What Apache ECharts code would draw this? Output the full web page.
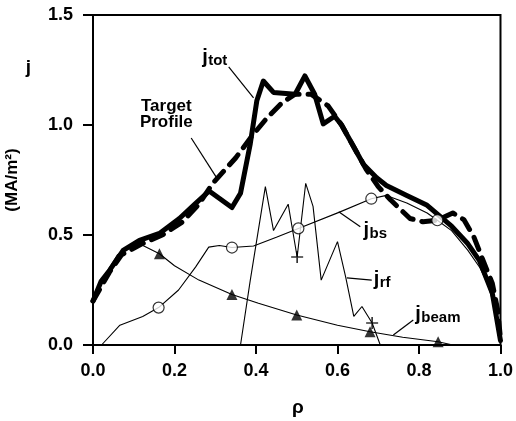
<!DOCTYPE html>
<html>
<head>
<meta charset="utf-8">
<script src="https://cdn.jsdelivr.net/npm/echarts@6/dist/echarts.min.js"></script>
<style>html,body{margin:0;padding:0;background:#fff;}#c{width:516px;height:421px;}</style>
</head>
<body>
<div id="c"></div>
<script>
// ---- data (rho, j in MA/m^2) ----
var xTicks = [0, 0.2, 0.4, 0.6, 0.8, 1.0];
var yTicks = [0, 0.5, 1.0, 1.5];

var jTot = [[0,0.20],[0.02,0.29],[0.041,0.34],[0.074,0.43],[0.114,0.476],[0.163,0.507],[0.212,0.575],[0.25,0.64],[0.285,0.70],[0.341,0.625],[0.362,0.69],[0.386,0.915],[0.402,1.11],[0.418,1.20],[0.443,1.148],[0.496,1.14],[0.52,1.223],[0.544,1.14],[0.565,1.005],[0.593,1.04],[0.61,1.0],[0.64,0.90],[0.664,0.82],[0.696,0.76],[0.72,0.725],[0.77,0.68],[0.82,0.635],[0.88,0.54],[0.92,0.46],[0.948,0.385],[0.98,0.235],[1.0,0.02]];

var jTarget = [[0,0.20],[0.04,0.33],[0.07,0.41],[0.12,0.46],[0.17,0.50],[0.22,0.56],[0.26,0.64],[0.293,0.733],[0.35,0.85],[0.39,0.95],[0.426,1.03],[0.463,1.10],[0.496,1.14],[0.535,1.14],[0.577,1.087],[0.61,1.0],[0.64,0.90],[0.67,0.80],[0.70,0.72],[0.73,0.66],[0.778,0.575],[0.81,0.56],[0.845,0.567],[0.883,0.60],[0.91,0.57],[0.935,0.49],[0.956,0.39],[0.98,0.28],[0.993,0.16],[1.0,0.03]];

var jBs = [[0.021,0],[0.066,0.09],[0.122,0.13],[0.161,0.17],[0.21,0.25],[0.252,0.355],[0.284,0.445],[0.31,0.452],[0.341,0.443],[0.394,0.45],[0.45,0.49],[0.504,0.53],[0.605,0.604],[0.683,0.665],[0.72,0.68],[0.77,0.645],[0.82,0.60],[0.845,0.567],[0.88,0.52],[0.92,0.43],[0.95,0.35],[0.97,0.27],[0.99,0.14],[1.0,0.02]];
var jBsMarks = [[0.161,0.17],[0.341,0.443],[0.504,0.53],[0.683,0.665],[0.845,0.567]];

var jRf = [[0.362,0],[0.386,0.295],[0.423,0.72],[0.443,0.52],[0.479,0.64],[0.501,0.40],[0.522,0.735],[0.54,0.63],[0.56,0.295],[0.60,0.47],[0.62,0.31],[0.64,0.13],[0.66,0.175],[0.685,0.10],[0.705,0.0]];
var jRfMarks = [[0.501,0.40],[0.685,0.10]];

var jBeam = [[0,0.20],[0.03,0.32],[0.06,0.41],[0.1,0.45],[0.12,0.455],[0.163,0.415],[0.2,0.36],[0.26,0.295],[0.341,0.23],[0.406,0.19],[0.5,0.136],[0.6,0.09],[0.68,0.06],[0.76,0.035],[0.847,0.015],[0.883,0.0]];
var jBeamMarks = [[0.163,0.415],[0.341,0.23],[0.5,0.136],[0.68,0.06],[0.847,0.015]];

// annotation anchors (data coords)
var labels = [
  {main:'j', sub:'tot', at:[0.268,1.306]},
  {main:'j', sub:'bs', at:[0.664,0.52]},
  {main:'j', sub:'rf', at:[0.689,0.297]},
  {main:'j', sub:'beam', at:[0.791,0.138]}
];
var leaders = [
  [[0.333,1.264],[0.394,1.123]],
  [[0.241,0.941],[0.302,0.764]],
  [[0.603,0.606],[0.656,0.538]],
  [[0.623,0.305],[0.684,0.295]],
  [[0.737,0.045],[0.786,0.114]]
];
var targetLabelAt = [0.18, 1.05];

var FONT = '"Liberation Sans", Arial, Helvetica, sans-serif';
var chart = echarts.init(document.getElementById('c'), null, {renderer:'canvas'});
var thin = {color:'#000', width:1.1};
var plusPath = 'path://M4.3,0h1.4v4.3h4.3v1.4h-4.3v4.3h-1.4v-4.3h-4.3v-1.4h4.3z';

chart.setOption({
  animation:false,
  backgroundColor:'#fff',
  grid:{left:93, right:12, top:15, bottom:76, show:true, borderColor:'#000', borderWidth:2},
  xAxis:{type:'value', min:0, max:1, interval:0.2,
    axisLine:{show:true, lineStyle:{color:'#000', width:2}},
    axisTick:{show:true, length:9, lineStyle:{color:'#000', width:2}},
    axisLabel:{margin:17, color:'#000', fontFamily:FONT, fontWeight:'bold', fontSize:18,
      formatter:function(v){return v.toFixed(1);}},
    splitLine:{show:false}},
  yAxis:{type:'value', min:0, max:1.5, interval:0.5,
    axisLine:{show:true, lineStyle:{color:'#000', width:2}},
    axisTick:{show:true, length:10, lineStyle:{color:'#000', width:2}},
    axisLabel:{margin:20, color:'#000', fontFamily:FONT, fontWeight:'bold', fontSize:18,
      formatter:function(v){return v.toFixed(1);}},
    splitLine:{show:false}},
  series:[
    {type:'line', data:jBeam, showSymbol:false, lineStyle:thin, z:2},
    {type:'line', data:jBs, showSymbol:false, lineStyle:thin, z:2},
    {type:'line', data:jRf, showSymbol:false, lineStyle:thin, z:2},
    {type:'line', data:jTot, showSymbol:false, lineStyle:{color:'#000', width:5, join:'round', cap:'round'}, z:3},
    {type:'line', data:jTarget, showSymbol:false, lineStyle:{color:'#000', width:5, type:[13,9], cap:'round', join:'round'}, z:4},
    {type:'scatter', data:jBsMarks, symbol:'circle', symbolSize:11, itemStyle:{color:'#fff', borderColor:'#000', borderWidth:1.2}, z:6},
    {type:'scatter', data:jBeamMarks, symbol:'triangle', symbolSize:11, itemStyle:{color:'#000'}, z:6},
    {type:'scatter', data:jRfMarks, symbol:plusPath, symbolSize:12, itemStyle:{color:'#000'}, z:6}
  ]
});

var g = [];
function px(p){ return chart.convertToPixel({gridIndex:0}, p); }
labels.forEach(function(l){
  var p = px(l.at);
  g.push({type:'text', x:p[0], y:p[1], z:10, style:{text:l.main, fontFamily:FONT, fontWeight:'bold', fontSize:20, fill:'#000', align:'left', verticalAlign:'middle'}});
  g.push({type:'text', x:p[0]+6, y:p[1]+3, z:10, style:{text:l.sub, fontFamily:FONT, fontWeight:'bold', fontSize:15, fill:'#000', align:'left', verticalAlign:'middle'}});
});
leaders.forEach(function(s){
  var a = px(s[0]), b = px(s[1]);
  g.push({type:'line', z:10, shape:{x1:a[0], y1:a[1], x2:b[0], y2:b[1]}, style:{stroke:'#000', lineWidth:1.2}});
});
var tp = px(targetLabelAt);
g.push({type:'text', x:tp[0], y:tp[1], z:10, style:{text:'Target\nProfile', fontFamily:FONT, fontWeight:'bold', fontSize:17, lineHeight:16, fill:'#000', align:'center', verticalAlign:'middle'}});
// axis titles
g.push({type:'text', x:28.5, y:68, z:10, style:{text:'j', fontFamily:FONT, fontWeight:'bold', fontSize:19, fill:'#000', align:'center', verticalAlign:'middle'}});
g.push({type:'text', x:12.5, y:180, rotation:Math.PI/2, z:10, style:{text:'(MA/m²)', fontFamily:FONT, fontWeight:'bold', fontSize:17, fill:'#000', align:'center', verticalAlign:'middle'}});
g.push({type:'text', x:298, y:408, z:10, style:{text:'ρ', fontFamily:FONT, fontWeight:'bold', fontSize:19, fill:'#000', align:'center', verticalAlign:'middle'}});
chart.setOption({graphic:g});
</script>
</body>
</html>
